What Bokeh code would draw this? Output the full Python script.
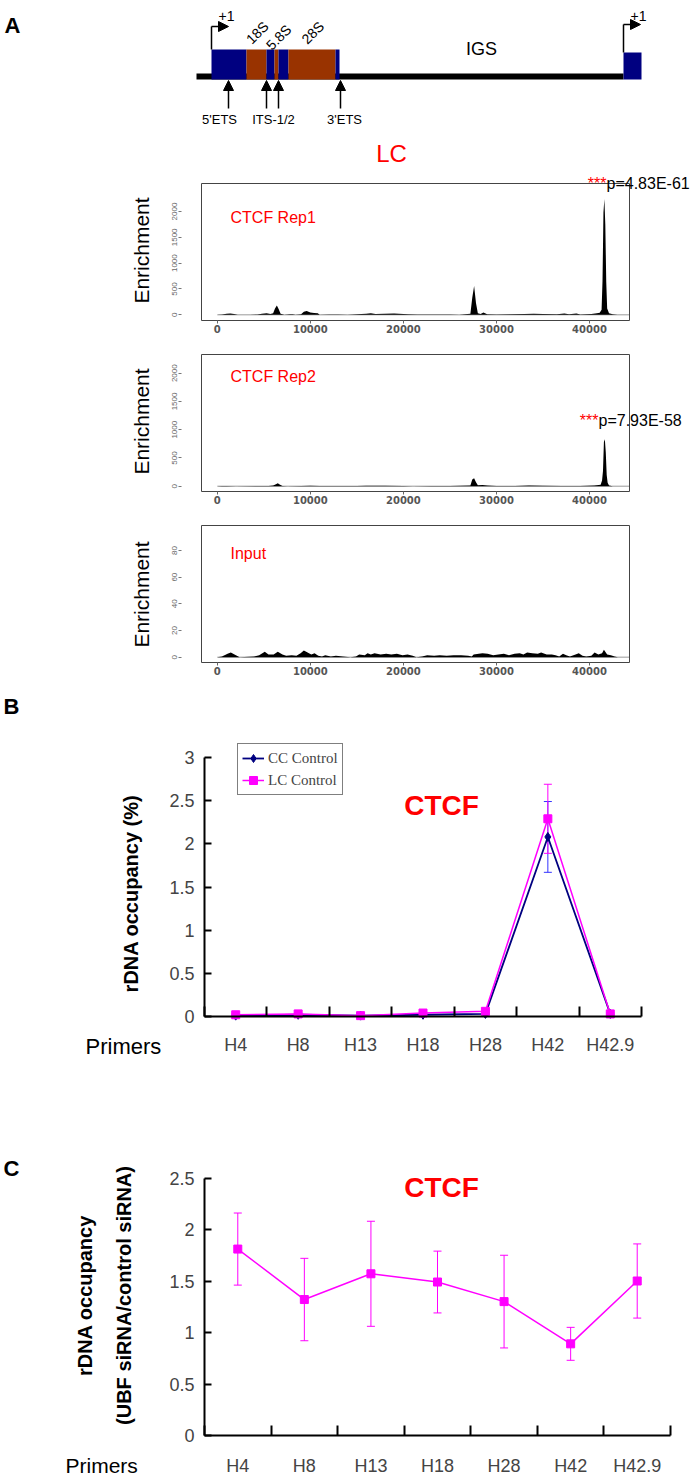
import numpy as np
from bokeh.plotting import figure
from bokeh.layouts import column
from bokeh.models import (Range1d, FixedTicker, Label, Arrow, NormalHead, TeeHead,
                          Whisker, ColumnDataSource, Legend, LegendItem)
from bokeh.core.properties import value
from bokeh.embed import file_html
from bokeh.resources import INLINE

FONT = "Liberation Sans"
W = 698
NAVY = "#000080"
BROWN = "#993300"
MAGENTA = "#ff00ff"
RED = "#ff0000"

# ---------------- data ----------------
region_names = ["5'ETS", "18S", "ITS1", "5.8S", "ITS2", "28S", "3'ETS"]
region_kind = ["spacer", "rRNA", "spacer", "rRNA", "spacer", "rRNA", "spacer"]
region_start = [0, 35, 55, 63, 67, 77, 124]
region_end = [35, 55, 63, 67, 77, 124, 128]
backbone_start = -15
igs_end = 412
next_ets_end = 430
site_names = ["5'ETS", "ITS-1/2", "3'ETS"]
site_arrows = [[17], [55, 67], [129]]
site_label_pos = [8, 62, 133]

track_x_ticks = [0, 10000, 20000, 30000, 40000]
ctcf_y_ticks = [0, 500, 1000, 1500, 2000]
input_y_ticks = [0, 20, 40, 60, 80]

rep1_pos = [0, 500, 1000, 1400, 1800, 2200, 3500, 4300, 4800, 5300,
            5700, 6000, 6200, 6400, 6600, 6800, 7200, 7800, 8100, 8400,
            9000, 9300, 9600, 10000, 10400, 10800, 11000, 12000, 13000, 14000,
            15000, 16000, 16500, 17000, 18000, 19000, 20000, 20500, 21500, 23000,
            25000, 26000, 27200, 27400, 27600, 27800, 28000, 28300, 28600, 29000,
            30000, 31500, 33000, 34000, 35000, 36500, 37300, 37800, 38600, 39000,
            40200, 40800, 41100, 41300, 41400, 41500, 41600, 41700, 41800, 41900,
            42100, 42500, 43000]
rep1_val = [0, 5, 20, 25, 15, 0, 3, 5, 20, 30,
            15, 30, 120, 180, 110, 20, 0, 10, 10, 0,
            10, 60, 75, 45, 35, 30, 0, 8, 5, 0,
            10, 20, 30, 15, 20, 25, 18, 10, 5, 8,
            8, 3, 20, 330, 560, 230, 30, 15, 45, 10,
            5, 10, 15, 20, 15, 10, 25, 10, 25, 8,
            15, 30, 40, 100, 660, 1980, 2240, 1750, 640, 120,
            30, 10, 0]

rep2_pos = [0, 500, 1000, 2000, 4500, 5500, 6000, 6300, 6500, 6700,
            7000, 7500, 9000, 10000, 11000, 13000, 15000, 16000, 18000, 20000,
            21000, 23000, 25000, 27200, 27400, 27600, 27800, 28000, 28500, 29000,
            30000, 32000, 33500, 35000, 37000, 39000, 40500, 41000, 41200, 41350,
            41450, 41550, 41650, 41750, 41850, 41950, 42100, 42500, 43000]
rep2_val = [0, 3, 5, 0, 4, 5, 10, 35, 50, 30,
            5, 0, 3, 8, 2, 2, 5, 8, 6, 5,
            0, 3, 3, 10, 120, 140, 70, 15, 20, 10,
            2, 5, 10, 8, 5, 3, 10, 20, 25, 100,
            270, 780, 830, 600, 200, 60, 10, 0, 0]

input_pos = ([0, 500, 1100, 1450, 2000, 2400]
             + [3950, 4500, 5100, 5500, 6050, 6500, 7000, 7400, 8000, 8500, 8950, 9300,
                9700, 10100, 10450, 10850, 11250, 11600, 12200, 12750, 13500, 14300]
             + [14900, 15250, 15850, 16150, 16500, 16900, 17550, 18150, 18700, 19300,
                19900, 20450, 21000, 21400]
             + [22000, 22550, 23300, 23900, 24650, 25400, 26200, 26950, 27350]
             + [27550, 28100, 28500, 29050, 29650, 30200, 30800, 31350, 31950, 32500,
                32900, 33300, 33850, 34450, 34800, 35400, 35950, 36350, 36750]
             + [37150, 37500, 37900, 38500, 38850, 39250, 39650, 40200, 40550, 40950,
                41350, 41550, 41900, 42300, 42700, 43050])
input_val = ([0, 0.5, 2.5, 3.5, 1.5, 0]
             + [0.5, 1.5, 4, 2, 2, 4, 2, 1, 1.5, 1, 3, 5,
                3.5, 2, 3, 1, 0.5, 1.5, 0.5, 1, 0.5, 0]
             + [0.5, 2, 1.5, 3, 2, 3, 2, 2.5, 2, 2.5,
                1.5, 2, 1, 0]
             + [0.5, 1.5, 1, 1.5, 1, 1.5, 1.5, 1, 0.5]
             + [2, 2.5, 3, 2.5, 1.5, 2, 2.5, 1.5, 2.5, 3,
                2, 3.5, 3, 2.5, 3.5, 2, 2, 1.5, 0.5]
             + [2.5, 1.5, 0.5, 2, 3, 1, 0.5, 1, 3.5, 2,
                3, 5.5, 2, 1.5, 0.5, 0])

primers = ["H4", "H8", "H13", "H18", "H28", "H42", "H42.9"]
cc_control = [0.01, 0.02, 0.01, 0.02, 0.03, 2.08, 0.03]
cc_err = [0.01, 0.01, 0.01, 0.01, 0.01, 0.41, 0.01]
lc_control = [0.02, 0.03, 0.01, 0.04, 0.06, 2.29, 0.03]
lc_err = [0.01, 0.01, 0.01, 0.01, 0.01, 0.40, 0.01]
b_y_ticks = [0, 0.5, 1, 1.5, 2, 2.5, 3]

ubf_ratio = [1.81, 1.32, 1.57, 1.49, 1.30, 0.89, 1.50]
ubf_err = [0.35, 0.40, 0.51, 0.30, 0.45, 0.16, 0.36]
c_y_ticks = [0, 0.5, 1, 1.5, 2, 2.5]


# ---------------- helpers ----------------
def rng(v0, v1, p0, p1, c_lo, c_hi):
    """Range whose values v0/v1 fall on pixels p0/p1 of a canvas spanning c_lo..c_hi."""
    k = (v1 - v0) / (p1 - p0)
    return Range1d(v0 + (c_lo - p0) * k, v0 + (c_hi - p0) * k)


def new_fig(height, xr, yr):
    p = figure(width=W, height=height, x_range=xr, y_range=yr, toolbar_location=None,
               output_backend="svg", min_border=0)
    p.grid.visible = False
    p.outline_line_color = None
    return p


def lab(p, fig_top, x, y, text, size, color="black", bold=False, angle=0.0,
        align="left", baseline="middle", font=FONT):
    # x, y are page pixels; converted to frame screen units (origin bottom-left)
    p.add_layout(Label(x=x, y=p.height - (y - fig_top), x_units="screen", y_units="screen",
                       text=text, text_font=font, text_font_size=f"{size}px",
                       text_color=color, text_font_style="bold" if bold else "normal",
                       angle=angle, text_align=align, text_baseline=baseline))


# ---------------- gene diagram ----------------
G_H = 140
g = new_fig(G_H, Range1d(-211, W - 211), Range1d(G_H, 0))
g.axis.visible = False
g.quad(left=[backbone_start], right=[igs_end], top=[73], bottom=[79],
       fill_color="black", line_color=None)
colors = [NAVY if k == "spacer" else BROWN for k in region_kind]
g.quad(left=region_start, right=region_end, top=49, bottom=79, fill_color=colors, line_color=None)
g.quad(left=[igs_end], right=[next_ets_end], top=[52], bottom=[79], fill_color=NAVY, line_color=None)

tss = [region_start[0], igs_end]
tss_top = [49, 52]
tss_y = [26, 24]
g.segment(x0=tss, y0=tss_top, x1=tss, y1=tss_y, line_color="black", line_width=1.5)
for x0, yy in zip(tss, tss_y):
    g.add_layout(Arrow(x_start=x0, y_start=yy, x_end=x0 + 17, y_end=yy, line_width=1.5,
                       end=NormalHead(size=10, fill_color="black", line_color="black")))
g.text(x=[t + 15 for t in tss], y=[15, 15], text=["+1", "+1"], text_align="center",
       text_baseline="alphabetic", text_font=value(FONT), text_font_size="14px")

for xs in site_arrows:
    for s in xs:
        g.add_layout(Arrow(x_start=s, y_start=108, x_end=s, y_end=80, line_width=1.5,
                           end=NormalHead(size=10, fill_color="black", line_color="black")))
g.text(x=site_label_pos, y=[119] * len(site_names), text=site_names, text_align="center",
       text_baseline="middle", text_font=value(FONT), text_font_size="13px")

rna_idx = [i for i, k in enumerate(region_kind) if k == "rRNA"]
rna_x = [(region_start[i] + region_end[i]) / 2 - 8 for i in rna_idx]
g.text(x=rna_x, y=[41, 47, 41], text=[region_names[i] for i in rna_idx], angle=np.pi / 4,
       text_align="left", text_baseline="alphabetic", text_font=value(FONT), text_font_size="14px")
g.text(x=[(region_end[-1] + igs_end) / 2], y=[48], text=["IGS"], text_align="center",
       text_baseline="middle", text_font=value(FONT), text_font_size="18px")
lab(g, 0, 4, 25, "A", 22, bold=True)

# ---------------- tracks ----------------
X_MIN, X_MAX = -1700, 44300
BOX_L, BOX_R = 201, 629


def make_track(fig_top, fig_h, box_top, box_bot, pos, vals, ylims, yticks, name, name_y,
               enr_y):
    y0, y1 = ylims
    p = new_fig(fig_h, rng(X_MIN, X_MAX, BOX_L, BOX_R, 0, W),
                rng(y0, y1, box_bot, box_top, fig_top + fig_h, fig_top))
    p.segment(x0=[0], y0=[0], x1=[X_MAX], y1=[0], line_color="#999999", line_width=1)
    p.varea(x=pos, y1=0, y2=vals, fill_color="black")
    p.quad(left=[X_MIN], right=[X_MAX], bottom=[y0], top=[y1], fill_color=None,
           line_color="#444444", line_width=1)

    ax = p.xaxis[0]
    ax.fixed_location = y0
    ax.ticker = FixedTicker(ticks=track_x_ticks)
    ax.major_label_overrides = {t: str(t) for t in track_x_ticks}
    ax.axis_line_color = None
    ax.major_tick_in = 0
    ax.major_tick_out = 3
    ax.major_tick_line_color = "#666666"
    ax.minor_tick_line_color = None
    ax.major_label_text_font = "DejaVu Sans"
    ax.major_label_text_font_style = "bold"
    ax.major_label_text_font_size = "10px"
    ax.major_label_text_color = "#555555"
    ax.major_label_standoff = 1

    ay = p.yaxis[0]
    ay.fixed_location = X_MIN
    ay.ticker = FixedTicker(ticks=yticks)
    ay.major_label_overrides = {t: str(t) for t in yticks}
    ay.axis_line_color = None
    ay.major_tick_in = -20
    ay.major_tick_out = 23
    ay.major_tick_line_color = "#777777"
    ay.minor_tick_line_color = None
    ay.major_label_orientation = "vertical"
    ay.major_label_text_font = FONT
    ay.major_label_text_font_size = "8px"
    ay.major_label_text_color = "#666666"
    ay.major_label_standoff = 1

    lab(p, fig_top, 141, enr_y, "Enrichment", 21, angle=np.pi / 2, align="center")
    lab(p, fig_top, 230, name_y, name, 16, color=RED)
    return p


def pval(p, x, y, text):
    p.add_layout(Label(x=x, y=y, text="***", text_font=FONT, text_font_size="16px",
                       text_color=RED, text_align="right", text_baseline="middle"))
    p.add_layout(Label(x=x, y=y, text=text, text_font=FONT, text_font_size="16px",
                       text_color="black", text_align="left", text_baseline="middle"))


t1 = make_track(140, 204, 183, 320, rep1_pos, rep1_val, (-110, 2542), ctcf_y_ticks,
                "CTCF Rep1", 217, 250)
lab(t1, 140, 391, 153, "LC", 24, color=RED, align="center")
pval(t1, 41830, 2540, "p=4.83E-61")

t2 = make_track(344, 171, 354, 491, rep2_pos, rep2_val, (-94, 2331), ctcf_y_ticks,
                "CTCF Rep2", 376, 421)
pval(t2, 40970, 1160, "p=7.93E-58")

t3 = make_track(515, 171, 525, 662, input_pos, input_val, (-4, 98.7), input_y_ticks,
                "Input", 553, 594)

# ---------------- panels B and C ----------------
xc = [i + 0.5 for i in range(len(primers))]
bounds = list(range(len(primers) + 1))
n_cat = len(primers)


def style_excel(p, yticks, standoff):
    ax = p.xaxis[0]
    ax.fixed_location = 0
    ax.bounds = (0, n_cat)
    ax.ticker = FixedTicker(ticks=xc, minor_ticks=bounds)
    ax.major_label_overrides = {x: n for x, n in zip(xc, primers)}
    ax.major_tick_in = 0
    ax.major_tick_out = 0
    ax.minor_tick_in = 10
    ax.minor_tick_out = 0
    ax.minor_tick_line_color = "black"
    ax.minor_tick_line_width = 2
    ax.axis_line_width = 2
    ax.axis_line_color = "black"
    ax.major_label_text_font = FONT
    ax.major_label_text_font_size = "18px"
    ax.major_label_standoff = standoff
    ay = p.yaxis[0]
    ay.fixed_location = 0
    ay.bounds = (yticks[0], yticks[-1])
    ay.ticker = FixedTicker(ticks=yticks)
    ay.major_label_overrides = {t: f"{t:g}" for t in yticks}
    ay.major_tick_in = 7
    ay.major_tick_out = 0
    ay.major_tick_line_width = 2
    ay.minor_tick_line_color = None
    ay.axis_line_width = 2
    ay.major_label_text_font = FONT
    ay.major_label_text_font_size = "18px"
    ay.major_label_standoff = 10


B_TOP, B_H = 686, 376
pb = new_fig(B_H, rng(0, n_cat, 204, 641, 0, W),
             rng(0, b_y_ticks[-1], 1016, 757, B_TOP + B_H, B_TOP))
style_excel(pb, b_y_ticks, 18)

src_cc = ColumnDataSource(dict(x=xc, y=cc_control,
                               lo=[v - e for v, e in zip(cc_control, cc_err)],
                               hi=[v + e for v, e in zip(cc_control, cc_err)]))
src_lc = ColumnDataSource(dict(x=xc, y=lc_control,
                               lo=[v - e for v, e in zip(lc_control, lc_err)],
                               hi=[v + e for v, e in zip(lc_control, lc_err)]))
pb.add_layout(Whisker(source=src_cc, base="x", upper="hi", lower="lo", line_color="#3333ff",
                      line_width=1, upper_head=TeeHead(size=8, line_color="#3333ff"),
                      lower_head=TeeHead(size=8, line_color="#3333ff")))
l_cc = pb.line("x", "y", source=src_cc, line_color=NAVY, line_width=1.8)
s_cc = pb.scatter("x", "y", source=src_cc, marker="diamond", size=9, fill_color=NAVY, line_color=NAVY)
l_lc = pb.line("x", "y", source=src_lc, line_color=MAGENTA, line_width=1.5)
s_lc = pb.scatter("x", "y", source=src_lc, marker="square", size=8, fill_color=MAGENTA, line_color=MAGENTA)
pb.add_layout(Whisker(source=src_lc, base="x", upper="hi", lower="lo", line_color=MAGENTA,
                      line_width=1, upper_head=TeeHead(size=8, line_color=MAGENTA),
                      lower_head=TeeHead(size=8, line_color=MAGENTA)))

legend = Legend(items=[LegendItem(label="CC Control", renderers=[l_cc, s_cc]),
                       LegendItem(label="LC Control", renderers=[l_lc, s_lc])],
                location=(237, B_TOP + B_H - 795))
legend.border_line_color = "black"
legend.border_line_width = 1
legend.label_text_font = "Liberation Serif"
legend.label_text_font_size = "15px"
legend.padding = 4
legend.spacing = 2
legend.margin = 0
legend.glyph_width = 22
legend.glyph_height = 20
legend.label_height = 20
legend.label_standoff = 4
pb.add_layout(legend)

lab(pb, B_TOP, 441, 805, "CTCF", 28, color=RED, bold=True, align="center")
lab(pb, B_TOP, 130, 893, "rDNA occupancy (%)", 20, bold=True, angle=np.pi / 2, align="center")
lab(pb, B_TOP, 85, 1046, "Primers", 22)
lab(pb, B_TOP, 3, 706, "B", 22, bold=True)

C_TOP, C_H = 1062, 417
pc = new_fig(C_H, rng(0, n_cat, 204, 670, 0, W),
             rng(0, c_y_ticks[-1], 1435, 1177.5, C_TOP + C_H, C_TOP))
style_excel(pc, c_y_ticks, 20)
src_c = ColumnDataSource(dict(x=xc, y=ubf_ratio,
                              lo=[v - e for v, e in zip(ubf_ratio, ubf_err)],
                              hi=[v + e for v, e in zip(ubf_ratio, ubf_err)]))
pc.add_layout(Whisker(source=src_c, base="x", upper="hi", lower="lo", line_color=MAGENTA,
                      line_width=1, upper_head=TeeHead(size=8, line_color=MAGENTA),
                      lower_head=TeeHead(size=8, line_color=MAGENTA)))
pc.line("x", "y", source=src_c, line_color=MAGENTA, line_width=1.5)
pc.scatter("x", "y", source=src_c, marker="square", size=8, fill_color=MAGENTA, line_color=MAGENTA)

lab(pc, C_TOP, 441, 1187, "CTCF", 28, color=RED, bold=True, align="center")
lab(pc, C_TOP, 84, 1295, "rDNA occupancy", 20, bold=True, angle=np.pi / 2, align="center")
lab(pc, C_TOP, 123, 1295, "(UBF siRNA/control siRNA)", 20, bold=True, angle=np.pi / 2,
    align="center")
lab(pc, C_TOP, 65, 1465, "Primers", 21)
lab(pc, C_TOP, 3, 1168, "C", 22, bold=True)

layout = column(g, t1, t2, t3, pb, pc, spacing=0)
open("out.html", "w").write(file_html(layout, INLINE))
